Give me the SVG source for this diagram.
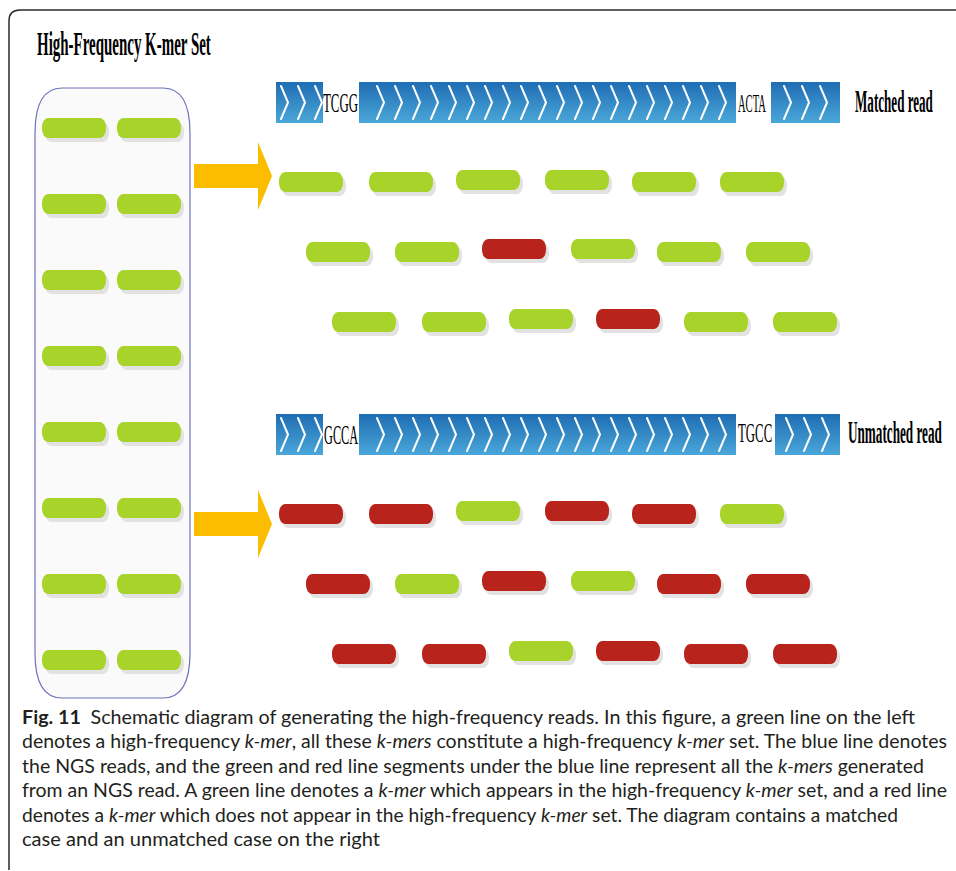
<svg xmlns="http://www.w3.org/2000/svg" xmlns:xlink="http://www.w3.org/1999/xlink" width="956" height="871" viewBox="0 0 956 871">
<style>
.frame{fill:none;stroke:#2a2a2a;stroke-width:1.5}
.panel{fill:#fafafa;stroke:#6f72b8;stroke-width:1.2}
.bar{fill:url(#blue)}
.chev{fill:none;stroke:#ffffff;stroke-width:2;stroke-linecap:round;stroke-linejoin:miter}
.g{fill:#a8d32a}
.r{fill:#b8241c}
.sh{fill:#e2e2e2}
.arrow{fill:#fcbc00}
.lbl{font-family:"Liberation Serif","Times New Roman",serif;fill:#000}
.cap{font-family:Lato,"Open Sans","Liberation Sans",sans-serif;font-size:18.5px;fill:#231f20}
</style>
<defs>
<linearGradient id="blue" x1="0" y1="0" x2="0" y2="1">
<stop offset="0" stop-color="#1f6db3"/>
<stop offset="1" stop-color="#4ba7d9"/>
</linearGradient>
<g id="gp"><rect class="sh" x="3" y="4" width="64" height="20" rx="6" ry="9"/><rect class="g" x="0" y="0" width="64" height="20" rx="6" ry="9"/></g>
<g id="rp"><rect class="sh" x="3" y="4" width="64" height="20" rx="6" ry="9"/><rect class="r" x="0" y="0" width="64" height="20" rx="6" ry="9"/></g>
<path id="ch" class="chev" d="M0,4 L7,20.5 L0,37"/>
</defs>

<path class="frame" d="M9,870 V21 Q9,10 20,10 H956"/>

<text class="lbl" transform="translate(37,55) scale(0.44,1)" x="0" y="0" font-size="34" font-weight="bold" textLength="395" lengthAdjust="spacingAndGlyphs">High-Frequency K-mer Set</text>

<g id="kmer-set">
<path class="panel" d="M35,133 Q35,88 62,88 H163 Q190,88 190,133 V653 Q190,698 163,698 H62 Q35,698 35,653 Z"/>
<use xlink:href="#gp" x="42" y="118"/><use xlink:href="#gp" x="117" y="118"/>
<use xlink:href="#gp" x="42" y="194"/><use xlink:href="#gp" x="117" y="194"/>
<use xlink:href="#gp" x="42" y="270"/><use xlink:href="#gp" x="117" y="270"/>
<use xlink:href="#gp" x="42" y="346"/><use xlink:href="#gp" x="117" y="346"/>
<use xlink:href="#gp" x="42" y="422"/><use xlink:href="#gp" x="117" y="422"/>
<use xlink:href="#gp" x="42" y="498"/><use xlink:href="#gp" x="117" y="498"/>
<use xlink:href="#gp" x="42" y="574"/><use xlink:href="#gp" x="117" y="574"/>
<use xlink:href="#gp" x="42" y="650"/><use xlink:href="#gp" x="117" y="650"/>
</g>

<g id="connectors">
<path class="arrow" d="M194,164 H258 V142 L272,176 L258,210 V188 H194 Z"/>
<path class="arrow" d="M194,512 H258 V490 L272,524 L258,558 V536 H194 Z"/>
</g>

<g id="matched-read">
<rect class="bar" x="276" y="82" width="47" height="41"/>
<rect class="bar" x="359" y="82" width="377" height="41"/>
<rect class="bar" x="771" y="82" width="69" height="41"/>
<g transform="translate(0,82)">
<use xlink:href="#ch" x="281"/><use xlink:href="#ch" x="298"/><use xlink:href="#ch" x="315"/>
<use xlink:href="#ch" x="377"/><use xlink:href="#ch" x="395"/><use xlink:href="#ch" x="413"/><use xlink:href="#ch" x="431"/><use xlink:href="#ch" x="449"/><use xlink:href="#ch" x="467"/><use xlink:href="#ch" x="485"/><use xlink:href="#ch" x="503"/><use xlink:href="#ch" x="521"/><use xlink:href="#ch" x="539"/><use xlink:href="#ch" x="557"/><use xlink:href="#ch" x="575"/><use xlink:href="#ch" x="593"/><use xlink:href="#ch" x="611"/><use xlink:href="#ch" x="629"/><use xlink:href="#ch" x="647"/><use xlink:href="#ch" x="665"/><use xlink:href="#ch" x="683"/><use xlink:href="#ch" x="701"/><use xlink:href="#ch" x="719"/>
<use xlink:href="#ch" x="784"/><use xlink:href="#ch" x="802"/><use xlink:href="#ch" x="820"/>
</g>
<text class="lbl" transform="translate(323,112) scale(0.45,1)" x="0" y="0" font-size="28" textLength="78" lengthAdjust="spacingAndGlyphs">TCGG</text>
<text class="lbl" transform="translate(738,112) scale(0.45,1)" x="0" y="0" font-size="25" textLength="62" lengthAdjust="spacingAndGlyphs">ACTA</text>
<text class="lbl" transform="translate(855,112) scale(0.41,1)" x="0" y="0" font-size="32" font-weight="bold" textLength="190" lengthAdjust="spacingAndGlyphs">Matched read</text>
</g>

<g id="matched-kmers">
<use xlink:href="#gp" x="279" y="172"/><use xlink:href="#gp" x="369" y="172"/><use xlink:href="#gp" x="456" y="170"/><use xlink:href="#gp" x="545" y="170"/><use xlink:href="#gp" x="632" y="172"/><use xlink:href="#gp" x="720" y="172"/>
<use xlink:href="#gp" x="306" y="242"/><use xlink:href="#gp" x="395" y="242"/><use xlink:href="#rp" x="482" y="239"/><use xlink:href="#gp" x="571" y="239"/><use xlink:href="#gp" x="657" y="242"/><use xlink:href="#gp" x="746" y="242"/>
<use xlink:href="#gp" x="332" y="312"/><use xlink:href="#gp" x="422" y="312"/><use xlink:href="#gp" x="509" y="309"/><use xlink:href="#rp" x="596" y="309"/><use xlink:href="#gp" x="684" y="312"/><use xlink:href="#gp" x="773" y="312"/>
</g>

<g id="unmatched-read">
<rect class="bar" x="276" y="414" width="47" height="41"/>
<rect class="bar" x="359" y="414" width="377" height="41"/>
<rect class="bar" x="775" y="414" width="65" height="41"/>
<g transform="translate(0,414)">
<use xlink:href="#ch" x="281"/><use xlink:href="#ch" x="298"/><use xlink:href="#ch" x="315"/>
<use xlink:href="#ch" x="377"/><use xlink:href="#ch" x="395"/><use xlink:href="#ch" x="413"/><use xlink:href="#ch" x="431"/><use xlink:href="#ch" x="449"/><use xlink:href="#ch" x="467"/><use xlink:href="#ch" x="485"/><use xlink:href="#ch" x="503"/><use xlink:href="#ch" x="521"/><use xlink:href="#ch" x="539"/><use xlink:href="#ch" x="557"/><use xlink:href="#ch" x="575"/><use xlink:href="#ch" x="593"/><use xlink:href="#ch" x="611"/><use xlink:href="#ch" x="629"/><use xlink:href="#ch" x="647"/><use xlink:href="#ch" x="665"/><use xlink:href="#ch" x="683"/><use xlink:href="#ch" x="701"/><use xlink:href="#ch" x="719"/>
<use xlink:href="#ch" x="786"/><use xlink:href="#ch" x="804"/><use xlink:href="#ch" x="822"/>
</g>
<text class="lbl" transform="translate(324,444) scale(0.45,1)" x="0" y="0" font-size="28" textLength="76" lengthAdjust="spacingAndGlyphs">GCCA</text>
<text class="lbl" transform="translate(738,442) scale(0.45,1)" x="0" y="0" font-size="28" textLength="76" lengthAdjust="spacingAndGlyphs">TGCC</text>
<text class="lbl" transform="translate(848,443) scale(0.41,1)" x="0" y="0" font-size="32" font-weight="bold" textLength="229" lengthAdjust="spacingAndGlyphs">Unmatched read</text>
</g>

<g id="unmatched-kmers">
<use xlink:href="#rp" x="279" y="504"/><use xlink:href="#rp" x="369" y="504"/><use xlink:href="#gp" x="456" y="501"/><use xlink:href="#rp" x="545" y="501"/><use xlink:href="#rp" x="632" y="504"/><use xlink:href="#gp" x="720" y="504"/>
<use xlink:href="#rp" x="306" y="574"/><use xlink:href="#gp" x="395" y="574"/><use xlink:href="#rp" x="482" y="571"/><use xlink:href="#gp" x="571" y="571"/><use xlink:href="#rp" x="657" y="574"/><use xlink:href="#rp" x="746" y="574"/>
<use xlink:href="#rp" x="332" y="644"/><use xlink:href="#rp" x="422" y="644"/><use xlink:href="#gp" x="509" y="641"/><use xlink:href="#rp" x="596" y="641"/><use xlink:href="#rp" x="684" y="644"/><use xlink:href="#rp" x="773" y="644"/>
</g>

<g id="caption">
<text class="cap" x="22" y="724" textLength="893" lengthAdjust="spacingAndGlyphs"><tspan font-weight="bold">Fig. 11</tspan><tspan dx="9">Schematic diagram of generating the high-frequency reads. In this figure, a green line on the left</tspan></text>
<text class="cap" x="22" y="748" textLength="925" lengthAdjust="spacingAndGlyphs">denotes a high-frequency <tspan font-style="italic">k-mer</tspan>, all these <tspan font-style="italic">k-mers</tspan> constitute a high-frequency <tspan font-style="italic">k-mer</tspan> set. The blue line denotes</text>
<text class="cap" x="22" y="773" textLength="902" lengthAdjust="spacingAndGlyphs">the NGS reads, and the green and red line segments under the blue line represent all the <tspan font-style="italic">k-mers</tspan> generated</text>
<text class="cap" x="22" y="797" textLength="925" lengthAdjust="spacingAndGlyphs">from an NGS read. A green line denotes a <tspan font-style="italic">k-mer</tspan> which appears in the high-frequency <tspan font-style="italic">k-mer</tspan> set, and a red line</text>
<text class="cap" x="22" y="822" textLength="876" lengthAdjust="spacingAndGlyphs">denotes a <tspan font-style="italic">k-mer</tspan> which does not appear in the high-frequency <tspan font-style="italic">k-mer</tspan> set. The diagram contains a matched</text>
<text class="cap" x="22" y="846" textLength="358" lengthAdjust="spacingAndGlyphs">case and an unmatched case on the right</text>
</g>
</svg>
